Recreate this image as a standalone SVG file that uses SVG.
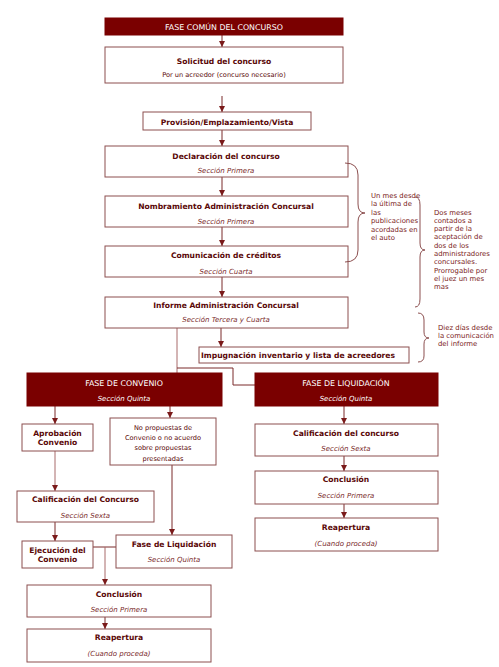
<svg xmlns="http://www.w3.org/2000/svg" width="499" height="667" viewBox="0 0 499 667">
<style>
.box{fill:#fff;stroke:#8c4f4f;stroke-width:1}
.dark{fill:#7a0000;stroke:#7a0000;stroke-width:1}
.t{font-family:"DejaVu Sans",Verdana,sans-serif;font-weight:bold;font-size:7.6px;fill:#5a0808;text-anchor:middle}
.h{font-family:"DejaVu Sans",Verdana,sans-serif;font-size:7.9px;fill:#fff;text-anchor:middle}
.s{font-family:"DejaVu Sans",Verdana,sans-serif;font-style:italic;font-size:7px;fill:#7a2a2a;text-anchor:middle}
.sw{font-family:"DejaVu Sans",Verdana,sans-serif;font-style:italic;font-size:7px;fill:#fff;text-anchor:middle}
.p{font-family:"DejaVu Sans",Verdana,sans-serif;font-size:6.6px;fill:#5a0808;text-anchor:middle}
.n{font-family:"DejaVu Sans",Verdana,sans-serif;font-size:6.9px;fill:#7a1a1a}
.c{fill:none;stroke:#7a2a2a;stroke-width:1}
.cl{fill:none;stroke:#a86a6a;stroke-width:1}
.br{fill:none;stroke:#8c4f4f;stroke-width:1}
</style>
<defs>
<marker id="a" viewBox="0 0 6 6" refX="6" refY="3" markerWidth="6" markerHeight="6" markerUnits="userSpaceOnUse" orient="auto">
<path d="M0,0 L6,3 L0,6 z" fill="#7a1a1a"/>
</marker>
</defs>
<rect width="499" height="667" fill="#fff"/>
<g id="connectors">
<line class="c" x1="222" y1="35" x2="222" y2="47" marker-end="url(#a)"/>
<line class="c" x1="222" y1="96" x2="222" y2="112" marker-end="url(#a)"/>
<line class="c" x1="222" y1="130" x2="222" y2="146" marker-end="url(#a)"/>
<line class="c" x1="222" y1="177" x2="222" y2="196" marker-end="url(#a)"/>
<line class="c" x1="222" y1="227" x2="222" y2="246" marker-end="url(#a)"/>
<line class="c" x1="222" y1="277" x2="222" y2="297" marker-end="url(#a)"/>
<line class="c" x1="221" y1="328" x2="221" y2="347" marker-end="url(#a)"/>
<line class="cl" x1="177" y1="328" x2="177" y2="373"/>
<polyline class="c" points="177,368 233,368 233,385 255,385"/>
<line class="c" x1="55" y1="406" x2="55" y2="424" marker-end="url(#a)"/>
<line class="c" x1="170" y1="406" x2="170" y2="418" marker-end="url(#a)"/>
<line class="cl" x1="55" y1="451" x2="55" y2="491" marker-end="url(#a)"/>
<line class="c" x1="55" y1="522" x2="55" y2="541" marker-end="url(#a)"/>
<line class="c" x1="172" y1="465" x2="172" y2="535" marker-end="url(#a)"/>
<line class="c" x1="93" y1="547" x2="116" y2="547"/>
<line class="cl" x1="105" y1="547" x2="105" y2="585" marker-end="url(#a)"/>
<line class="c" x1="105" y1="617" x2="105" y2="629" marker-end="url(#a)"/>
<line class="c" x1="344" y1="406" x2="344" y2="424" marker-end="url(#a)"/>
<line class="c" x1="344" y1="456" x2="344" y2="471" marker-end="url(#a)"/>
<line class="c" x1="344" y1="504" x2="344" y2="518" marker-end="url(#a)"/>
</g>
<g id="fase-comun"><rect class="dark" x="105" y="18" width="238" height="17"/><text class="h" x="224" y="29.5">FASE COMÚN DEL CONCURSO</text></g>
<g id="solicitud"><rect class="box" x="105" y="47" width="238" height="36"/><text class="t" x="224" y="63.5">Solicitud del concurso</text><text class="p" x="224" y="76.5">Por un acreedor (concurso necesario)</text></g>
<g id="provision"><rect class="box" x="143" y="112" width="168" height="18"/><text class="t" x="227" y="124.5">Provisión/Emplazamiento/Vista</text></g>
<g id="declaracion"><rect class="box" x="105" y="146" width="243" height="31"/><text class="t" x="226" y="158.5">Declaración del concurso</text><text class="s" x="226" y="172.5">Sección Primera</text></g>
<g id="nombramiento"><rect class="box" x="105" y="196" width="243" height="31"/><text class="t" x="226" y="208.5">Nombramiento Administración Concursal</text><text class="s" x="226" y="223.5">Sección Primera</text></g>
<g id="comunicacion"><rect class="box" x="105" y="246" width="243" height="31"/><text class="t" x="226" y="258">Comunicación de créditos</text><text class="s" x="226" y="273.5">Sección  Cuarta</text></g>
<g id="informe"><rect class="box" x="105" y="297" width="243" height="31"/><text class="t" x="226" y="307.5">Informe Administración Concursal</text><text class="s" x="226" y="322">Sección Tercera y Cuarta</text></g>
<g id="impugnacion"><rect class="box" x="199" y="347" width="210" height="16"/><text class="t" x="298" y="357.8">Impugnación inventario y lista de acreedores</text></g>
<g id="fase-convenio"><rect class="dark" x="27" y="373" width="195" height="33"/><text class="h" x="124" y="386">FASE DE CONVENIO</text><text class="sw" x="124" y="401">Sección Quinta</text></g>
<g id="aprobacion"><rect class="box" x="22" y="424" width="71" height="27"/><text class="t" x="57.5" y="435.5">Aprobación</text><text class="t" x="57.5" y="445">Convenio</text></g>
<g id="no-propuestas"><rect class="box" x="110" y="418" width="106" height="47"/><text class="p" x="163" y="429.5">No propuestas de</text><text class="p" x="163" y="439.8">Convenio o no acuerdo</text><text class="p" x="163" y="450.2">sobre propuestas</text><text class="p" x="163" y="460.5">presentadas</text></g>
<g id="calificacion-convenio"><rect class="box" x="17" y="491" width="137" height="31"/><text class="t" x="85.5" y="501.8">Calificación del Concurso</text><text class="s" x="85.5" y="517.5">Sección Sexta</text></g>
<g id="ejecucion"><rect class="box" x="22" y="541" width="71" height="27"/><text class="t" x="57.5" y="552.5">Ejecución del</text><text class="t" x="57.5" y="562">Convenio</text></g>
<g id="fase-liquidacion-conv"><rect class="box" x="116" y="535" width="116" height="33"/><text class="t" x="174" y="546.8">Fase de Liquidación</text><text class="s" x="174" y="562">Sección Quinta</text></g>
<g id="conclusion-conv"><rect class="box" x="27" y="585" width="184" height="32"/><text class="t" x="119" y="596.8">Conclusión</text><text class="s" x="119" y="612">Sección Primera</text></g>
<g id="reapertura-conv"><rect class="box" x="27" y="629" width="184" height="33"/><text class="t" x="119" y="640">Reapertura</text><text class="s" x="119" y="656">(Cuando proceda)</text></g>
<g id="fase-liquidacion"><rect class="dark" x="255" y="373" width="183" height="33"/><text class="h" x="346" y="386">FASE DE LIQUIDACIÓN</text><text class="sw" x="346" y="401">Sección Quinta</text></g>
<g id="calificacion-liq"><rect class="box" x="255" y="424" width="183" height="32"/><text class="t" x="346" y="435.8">Calificación del concurso</text><text class="s" x="346" y="451">Sección Sexta</text></g>
<g id="conclusion-liq"><rect class="box" x="255" y="471" width="183" height="33"/><text class="t" x="346" y="482">Conclusión</text><text class="s" x="346" y="498">Sección Primera</text></g>
<g id="reapertura-liq"><rect class="box" x="255" y="518" width="183" height="33"/><text class="t" x="346" y="529.8">Reapertura</text><text class="s" x="346" y="546">(Cuando proceda)</text></g>
<g id="nota-un-mes">
<path class="br" d="M345,163 Q358,163 358,175 L358,204 Q358,213 365,213 Q358,213 358,222 L358,250 Q358,262 345,262"/>
<text class="n" x="371" y="197.5">Un mes desde</text><text class="n" x="371" y="206">la última de</text><text class="n" x="371" y="214.5">las</text><text class="n" x="371" y="223">publicaciones</text><text class="n" x="371" y="231.5">acordadas en</text><text class="n" x="371" y="240">el auto</text>
</g>
<g id="nota-dos-meses">
<path class="br" d="M415,197 Q420,197 420,205 L420,243 Q420,250 425,250 Q420,250 420,257 L420,299 Q420,307 415,307"/>
<text class="n" x="434" y="214.5">Dos meses</text><text class="n" x="434" y="222.8">contados a</text><text class="n" x="434" y="231.1">partir de la</text><text class="n" x="434" y="239.4">aceptación de</text><text class="n" x="434" y="247.7">dos de los</text><text class="n" x="434" y="256">administradores</text><text class="n" x="434" y="264.3">concursales.</text><text class="n" x="434" y="272.6">Prorrogable por</text><text class="n" x="434" y="280.9">el juez un mes</text><text class="n" x="434" y="289.2">mas</text>
</g>
<g id="nota-diez-dias">
<path class="br" d="M418,313 Q424,313 424,320 L424,332 Q424,338 429,338 Q424,338 424,344 L424,356 Q424,362 418,362"/>
<text class="n" x="438" y="329.5">Diez días desde</text><text class="n" x="438" y="337.5">la comunicación</text><text class="n" x="438" y="345.5">del informe</text>
</g>
</svg>
